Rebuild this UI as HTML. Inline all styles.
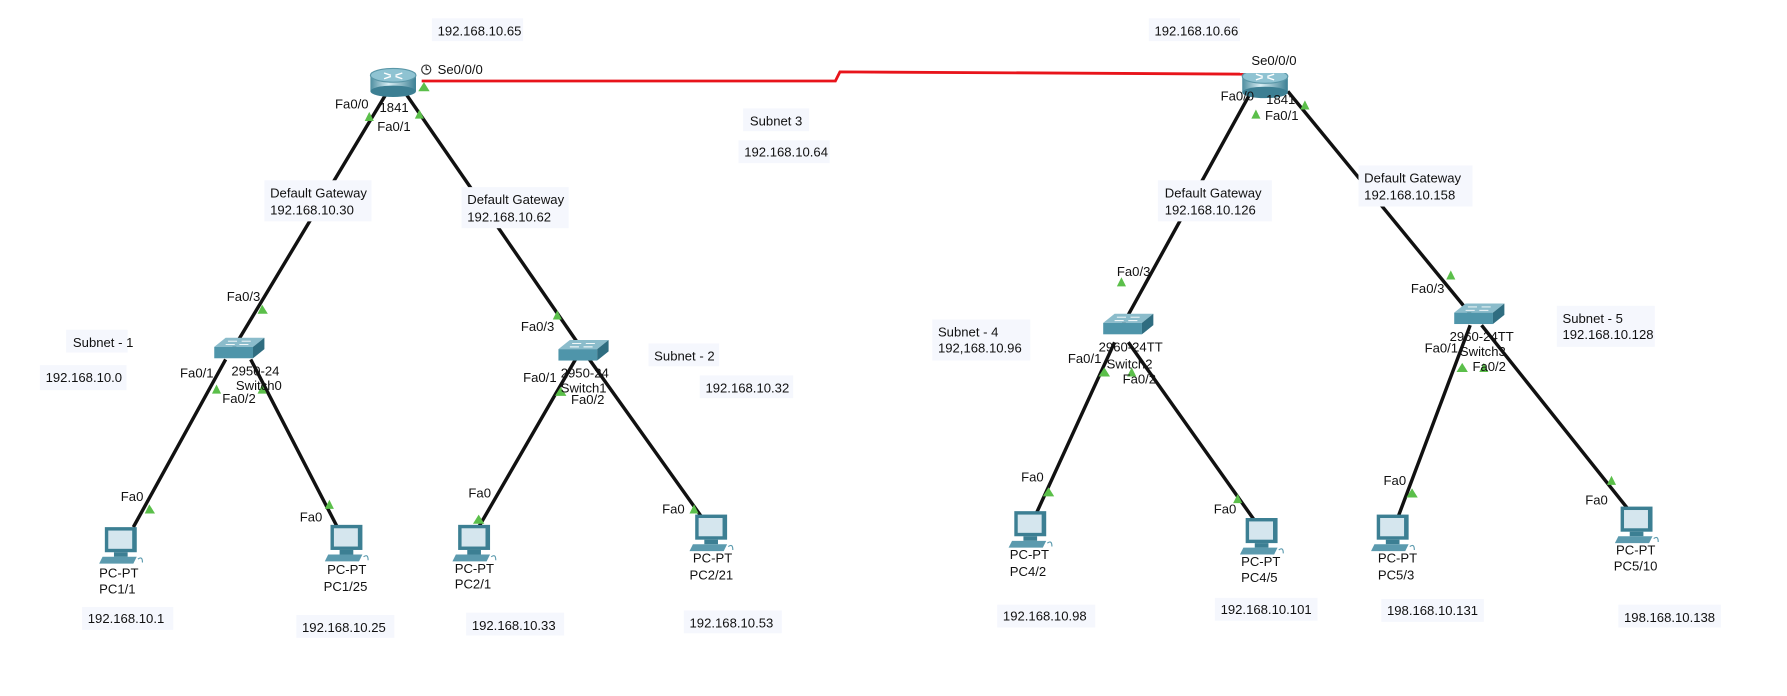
<!DOCTYPE html>
<html><head><meta charset="utf-8"><style>
html,body{margin:0;padding:0;background:#fff;width:1787px;height:696px;overflow:hidden}
svg{display:block}
text{font-family:"Liberation Sans",Arial,sans-serif;font-size:11.5px;fill:#111}
.bx{fill:#f5f7fd}
.ln{stroke:#111;stroke-width:3;fill:none}
.tri{fill:#5bbf4a}
</style></head><body>
<svg width="1787" height="696" viewBox="0 0 1568 610" preserveAspectRatio="none">
<defs>
<linearGradient id="rg" x1="0" x2="1"><stop offset="0" stop-color="#4e8ea0"/><stop offset="0.4" stop-color="#d8eef4"/><stop offset="1" stop-color="#3c7f93"/></linearGradient>
<g id="router"><rect x="0" y="6" width="40" height="14" fill="url(#rg)"/><ellipse cx="20" cy="20" rx="20" ry="5" fill="#3c7f93"/><ellipse cx="20" cy="6" rx="20" ry="6" fill="#8fc3d2" stroke="#5a97a8"/><path d="M12 4 l6 2 M28 4 l-6 2 M12 9 l6 -2 M28 9 l-6 -2" stroke="#fff" stroke-width="1.2"/></g>
<g id="switch"><path d="M0 8 L10 0 L44 0 L34 8 Z" fill="#8bbccb"/><rect x="0" y="8" width="34" height="10" fill="#4f95aa"/><path d="M34 8 L44 0 L44 10 L34 18 Z" fill="#2f6d80"/><path d="M12 3 h8 M24 3 h8 M10 6 h8 M22 6 h8" stroke="#fff" stroke-width="0.8"/></g>
<g id="pc"><rect x="4" y="0" width="28" height="22" fill="#3c7f93"/><rect x="7" y="3" width="21" height="16" fill="#d5e6ee"/><rect x="12" y="22" width="12" height="4" fill="#3c7f93"/><path d="M2 26 h30 l-3 6 h-30 z" fill="#5b9aae"/><path d="M33 28 q4 -3 4 3" stroke="#5b9aae" fill="none"/></g>
</defs>

<!-- links -->
<polyline points="370,71 733,71 737,63 1097,65" stroke="#e8141b" stroke-width="2.5" fill="none"/>
<line class="ln" x1="339" y1="82" x2="205" y2="305"/>
<line class="ln" x1="356" y1="82" x2="510" y2="305"/>
<line class="ln" x1="198" y1="315" x2="117" y2="462"/>
<line class="ln" x1="220" y1="315" x2="296" y2="462"/>
<line class="ln" x1="505" y1="315" x2="420" y2="462"/>
<line class="ln" x1="515" y1="312" x2="617" y2="455"/>
<line class="ln" x1="1098" y1="80" x2="985" y2="285"/>
<line class="ln" x1="1130" y1="80" x2="1290" y2="275"/>
<line class="ln" x1="978" y1="300" x2="907" y2="455"/>
<line class="ln" x1="990" y1="300" x2="1100" y2="455"/>
<line class="ln" x1="1290" y1="285" x2="1226" y2="455"/>
<line class="ln" x1="1300" y1="285" x2="1430" y2="448"/>

<!-- triangles -->
<g class="tri">
<path d="M367,80 l5,-8 l5,8z"/><path d="M320,106 l4,-8 l4,8z"/><path d="M364,104 l4,-8 l4,8z"/>
<path d="M226,275 l4,-8 l5,8z"/><path d="M186,345 l4,-8 l4,8z"/><path d="M226,345 l4,-8 l4,8z"/>
<path d="M127,450 l4,-8 l5,8z"/><path d="M285,446 l4,-8 l4,8z"/>
<path d="M485,280 l4,-8 l4,8z"/><path d="M487,347 l5,-8 l5,8z"/>
<path d="M415,459 l5,-8 l5,8z"/><path d="M605,450 l4,-8 l4,8z"/>
<path d="M1093,72 l5,-8 l5,8z"/><path d="M1098,104 l4,-8 l4,8z"/><path d="M1141,96 l4,-8 l4,8z"/>
<path d="M980,251 l4,-8 l4,8z"/><path d="M964,330 l5,-8 l5,8z"/><path d="M989,330 l4,-8 l4,8z"/>
<path d="M915,435 l5,-8 l5,8z"/><path d="M1082,441 l4,-8 l4,8z"/>
<path d="M1269,245 l4,-8 l4,8z"/><path d="M1278,326 l5,-8 l5,8z"/><path d="M1298,326 l4,-8 l4,8z"/>
<path d="M1234,436 l5,-8 l5,8z"/><path d="M1410,425 l4,-8 l4,8z"/>
</g>

<!-- devices -->
<use href="#router" x="325" y="60"/>
<use href="#router" x="1090" y="61"/>
<rect x="1088" y="56" width="44" height="8" fill="#fff"/>
<use href="#switch" x="188" y="296"/>
<use href="#switch" x="490" y="298"/>
<use href="#switch" x="968" y="275"/>
<use href="#switch" x="1276" y="266"/>
<use href="#pc" x="88" y="462"/>
<use href="#pc" x="286" y="460"/>
<use href="#pc" x="398" y="460"/>
<use href="#pc" x="606" y="451"/>
<use href="#pc" x="886" y="448"/>
<use href="#pc" x="1089" y="454"/>
<use href="#pc" x="1204" y="451"/>
<use href="#pc" x="1418" y="444"/>

<!-- labels with boxes -->
<g>
<rect class="bx" x="379" y="16" width="80" height="20"/><text x="384" y="31">192.168.10.65</text>
<rect class="bx" x="1008" y="16" width="80" height="20"/><text x="1013" y="31">192.168.10.66</text>
<rect class="bx" x="652" y="95" width="58" height="20"/><text x="658" y="110">Subnet 3</text>
<rect class="bx" x="648" y="123" width="80" height="20"/><text x="653" y="137">192.168.10.64</text>
<rect class="bx" x="232" y="158" width="94" height="36"/><text x="237" y="173">Default Gateway</text><text x="237" y="188">192.168.10.30</text>
<rect class="bx" x="405" y="164" width="94" height="36"/><text x="410" y="179">Default Gateway</text><text x="410" y="194">192.168.10.62</text>
<rect class="bx" x="1016" y="158" width="100" height="36"/><text x="1022" y="173">Default Gateway</text><text x="1022" y="188">192.168.10.126</text>
<rect class="bx" x="1192" y="145" width="100" height="36"/><text x="1197" y="160">Default Gateway</text><text x="1197" y="175">192.168.10.158</text>
<rect class="bx" x="58" y="289" width="54" height="20"/><text x="64" y="304">Subnet - 1</text>
<rect class="bx" x="35" y="320" width="76" height="22"/><text x="40" y="335">192.168.10.0</text>
<rect class="bx" x="569" y="301" width="62" height="20"/><text x="574" y="316">Subnet - 2</text>
<rect class="bx" x="614" y="329" width="82" height="20"/><text x="619" y="344">192.168.10.32</text>
<rect class="bx" x="818" y="280" width="86" height="36"/><text x="823" y="295">Subnet - 4</text><text x="823" y="309">192,168.10.96</text>
<rect class="bx" x="1366" y="268" width="86" height="36"/><text x="1371" y="283">Subnet - 5</text><text x="1371" y="297">192.168.10.128</text>
<rect class="bx" x="72" y="532" width="80" height="20"/><text x="77" y="546">192.168.10.1</text>
<rect class="bx" x="260" y="539" width="86" height="20"/><text x="265" y="554">192.168.10.25</text>
<rect class="bx" x="409" y="537" width="86" height="20"/><text x="414" y="552">192.168.10.33</text>
<rect class="bx" x="600" y="535" width="86" height="20"/><text x="605" y="550">192.168.10.53</text>
<rect class="bx" x="875" y="530" width="86" height="20"/><text x="880" y="544">192.168.10.98</text>
<rect class="bx" x="1066" y="524" width="90" height="20"/><text x="1071" y="538">192.168.10.101</text>
<rect class="bx" x="1212" y="525" width="90" height="20"/><text x="1217" y="539">198.168.10.131</text>
<rect class="bx" x="1420" y="530" width="90" height="20"/><text x="1425" y="545">198.168.10.138</text>
</g>

<!-- port & device labels -->
<g>
<circle cx="374" cy="61" r="4" fill="none" stroke="#333"/><path d="M374 58 v3 h2" stroke="#333" fill="none"/>
<text x="384" y="65">Se0/0/0</text>
<text x="294" y="95">Fa0/0</text><text x="333" y="98">1841</text><text x="331" y="115">Fa0/1</text>
<text x="1098" y="57">Se0/0/0</text>
<text x="1071" y="88">Fa0/0</text><text x="1111" y="91">1841</text><text x="1110" y="105">Fa0/1</text>
<text x="199" y="264">Fa0/3</text>
<text x="158" y="331">Fa0/1</text><text x="203" y="329">2950-24</text><text x="207" y="342">Switch0</text><text x="195" y="353">Fa0/2</text>
<text x="457" y="290">Fa0/3</text>
<text x="459" y="335">Fa0/1</text><text x="492" y="331">2950-24</text><text x="492" y="344">Switch1</text><text x="501" y="354">Fa0/2</text>
<text x="980" y="242">Fa0/3</text>
<text x="937" y="318">Fa0/1</text><text x="964" y="308">2960-24TT</text><text x="971" y="323">Switch2</text><text x="985" y="336">Fa0/2</text>
<text x="1238" y="257">Fa0/3</text>
<text x="1250" y="309">Fa0/1</text><text x="1272" y="299">2960-24TT</text><text x="1281" y="312">Switch3</text><text x="1292" y="325">Fa0/2</text>
<text x="106" y="439">Fa0</text><text x="263" y="457">Fa0</text><text x="411" y="436">Fa0</text><text x="581" y="450">Fa0</text>
<text x="896" y="422">Fa0</text><text x="1065" y="450">Fa0</text><text x="1214" y="425">Fa0</text><text x="1391" y="442">Fa0</text>
<text x="87" y="506">PC-PT</text><text x="87" y="520">PC1/1</text>
<text x="287" y="503">PC-PT</text><text x="284" y="518">PC1/25</text>
<text x="399" y="502">PC-PT</text><text x="399" y="516">PC2/1</text>
<text x="608" y="493">PC-PT</text><text x="605" y="508">PC2/21</text>
<text x="886" y="490">PC-PT</text><text x="886" y="505">PC4/2</text>
<text x="1089" y="496">PC-PT</text><text x="1089" y="510">PC4/5</text>
<text x="1209" y="493">PC-PT</text><text x="1209" y="508">PC5/3</text>
<text x="1418" y="486">PC-PT</text><text x="1416" y="500">PC5/10</text>
</g>
</svg>
</body></html>
